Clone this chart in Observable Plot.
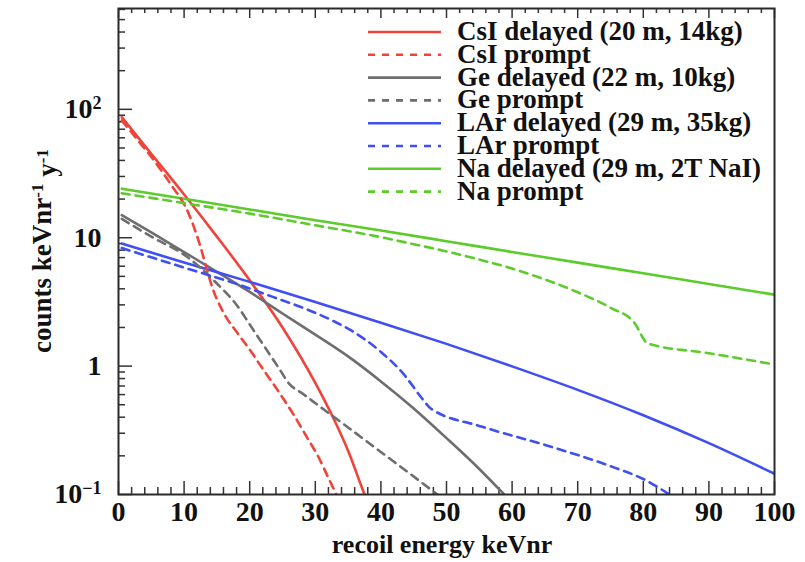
<!DOCTYPE html>
<html><head><meta charset="utf-8">
<script src="https://cdn.jsdelivr.net/npm/d3@7"></script>
<script src="https://cdn.jsdelivr.net/npm/@observablehq/plot@0.6"></script>
<style>body{margin:0;background:#fff} svg{display:block}</style>
</head><body><div id="chart"></div>
<script>
// ---- data (recoil energy keVnr, counts keVnr^-1 y^-1) ----
const csiDelayed = [[0.5,87],[5,45],[10,21.7],[15,10.2],[20,4.66],[25,2.0],[30,0.74],[33,0.37],[35,0.219],[37,0.117],[37.5,0.1]];
const csiPrompt  = [[0.5,82],[3,57],[5.4,40],[7.9,26.4],[10.7,15.4],[11.5,12.1],[12.5,8.5],[13.5,5.6],[14.3,4.1],[16.1,2.56],[18,1.85],[20.2,1.3],[21.7,1.0],[23.5,0.74],[25.2,0.55],[26.8,0.41],[28.8,0.275],[30.5,0.195],[31.9,0.138],[33.2,0.1]];
const geDelayed  = [[0.5,15],[5,11.0],[10,7.73],[15,5.43],[20,3.78],[25,2.57],[30,1.76],[35,1.19],[40,0.76],[45,0.468],[50,0.275],[55,0.158],[58.8,0.1]];
const gePrompt   = [[0.5,14],[5,10.2],[10.5,7.07],[14.5,4.66],[18.6,2.72],[19.6,2.27],[21.5,1.62],[23.2,1.2],[24.5,0.955],[26,0.73],[28,0.614],[31.3,0.459],[35.1,0.33],[40.5,0.205],[44.6,0.143],[48.6,0.1]];
const larDelayed = [[0.5,9.0],[10,6.41],[20,4.53],[30,3.16],[40,2.18],[50,1.49],[60,0.995],[70,0.653],[80,0.414],[90,0.251],[100,0.145]];
const larPrompt  = [[0.5,8.3],[10,5.85],[18.6,4.26],[23.2,3.51],[29.3,2.69],[32.4,2.29],[35.4,1.905],[40,1.29],[43.6,0.85],[46.1,0.575],[47.6,0.468],[55.3,0.339],[65.4,0.24],[75.6,0.162],[80,0.132],[84,0.1]];
const naDelayed  = [[0.5,24.1],[10,20.1],[20,16.6],[30,13.7],[40,11.4],[50,9.4],[60,7.74],[70,6.4],[80,5.28],[90,4.36],[100,3.6]];
const naPrompt   = [[0.5,22.2],[10,18.6],[20,15.4],[30,12.5],[40,10.1],[45,8.91],[50,7.82],[55,6.76],[60,5.75],[65,4.73],[70,3.76],[75,2.85],[78.6,2.19],[80.7,1.5],[90,1.26],[100,1.03]];

const materials = ["CsI","Ge","LAr","Na"];
const legendLabels = ["CsI delayed (20 m, 14kg)","CsI prompt","Ge delayed (22 m, 10kg)","Ge prompt","LAr delayed (29 m, 35kg)","LAr prompt","Na delayed (29 m, 2T NaI)","Na prompt"];
const xMajorTicks = [0,10,20,30,40,50,60,70,80,90,100];
const xMinorTicks = [2,4,6,8,12,14,16,18,22,24,26,28,32,34,36,38,42,44,46,48,52,54,56,58,62,64,66,68,72,74,76,78,82,84,86,88,92,94,96,98];
const yMajorTicks = [0.1,1,10,100];
const yTickLabels = ["10^−1","1","10","10^2"];
const yMinorTicks = [0.2,0.3,0.4,0.5,0.6,0.7,0.8,0.9,2,3,4,5,6,7,8,9,20,30,40,50,60,70,80,90,200,300,400,500,600];
const xTitle = "recoil energy keVnr";

// ---- styling ----
const colors = ["#f0433a","#6e6e6e","#3f4ff2","#5ccb2c"];
const dash = "8,6";
const font = "'Liberation Serif','Times New Roman',serif";

const seriesDefs = [
  ["CsI","delayed",csiDelayed],["CsI","prompt",csiPrompt],
  ["Ge","delayed",geDelayed],["Ge","prompt",gePrompt],
  ["LAr","delayed",larDelayed],["LAr","prompt",larPrompt],
  ["Na","delayed",naDelayed],["Na","prompt",naPrompt]
];
const rows = seriesDefs.flatMap(([m,mode,pts]) => pts.map(([e,v]) => ({material:m, mode, key:m+mode, e, v})));

const W = 805, H = 562, mL = 118, mR = 31, mT = 8, mB = 68;
const fw = W - mL - mR, fh = H - mT - mB;
const tickStyle = {stroke:"#333", strokeWidth:1.5};

const svg = Plot.plot({
  width: W, height: H,
  marginLeft: mL, marginRight: mR, marginTop: mT, marginBottom: mB,
  style: {fontFamily: font, fontWeight: "bold", fontSize: "27px", color: "#111", background: "#fff"},
  x: {domain: [0,100]},
  y: {type: "log", domain: [0.1, 610]},
  color: {domain: materials, range: colors},
  marks: [
    Plot.ruleX(xMajorTicks, {x: d=>d, insetTop: fh-13, ...tickStyle}),
    Plot.ruleX(xMinorTicks, {x: d=>d, insetTop: fh-7, ...tickStyle}),
    Plot.ruleX(xMajorTicks, {x: d=>d, insetBottom: fh-10, ...tickStyle}),
    Plot.ruleX(xMinorTicks, {x: d=>d, insetBottom: fh-5, ...tickStyle}),
    Plot.ruleY(yMajorTicks, {y: d=>d, insetRight: fw-14, ...tickStyle}),
    Plot.ruleY(yMinorTicks, {y: d=>d, insetRight: fw-7, ...tickStyle}),
    Plot.line(rows.filter(d=>d.mode==="delayed"), {x:"e", y:"v", z:"key", stroke:"material", strokeWidth:2.6, curve:"monotone-x", clip:true}),
    Plot.line(rows.filter(d=>d.mode==="prompt"), {x:"e", y:"v", z:"key", stroke:"material", strokeWidth:2.6, strokeDasharray:dash, curve:"monotone-x", clip:true}),
    Plot.frame({stroke:"#2a2a2a", strokeWidth:2}),
    Plot.axisX({ticks: xMajorTicks, tickSize: 0, tickPadding: 7, fontSize: 28, fontWeight: "bold", label: null}),
    Plot.axisY({ticks: yMajorTicks, tickSize: 0, tickPadding: 17, fontSize: 28, fontWeight: "bold", label: null,
      tickFormat: d => yTickLabels[yMajorTicks.indexOf(d)]})
  ]
});

const s = d3.select(svg);
s.selectAll('g[aria-label="y-axis tick label"] text').each(function(){
  const [b, e] = this.textContent.split("^");
  if (e) {
    this.textContent = b;
    d3.select(this).append("tspan").attr("dy","-0.5em").attr("font-size","18px").text(e);
  }
});

// axis titles
s.append("text").attr("x", mL + fw/2 - 4).attr("y", 553).attr("text-anchor","middle")
  .attr("font-family", font).attr("font-weight","bold").attr("font-size",26).attr("fill","#111").text(xTitle);
const yt = s.append("text").attr("transform", `translate(51,${mT + fh/2}) rotate(-90)`).attr("text-anchor","middle")
  .attr("font-family", font).attr("font-weight","bold").attr("font-size",27).attr("fill","#111");
yt.append("tspan").text("counts keVnr");
yt.append("tspan").attr("dy","-0.5em").attr("font-size","17px").text("-1");
yt.append("tspan").attr("dy","0.5em").text(" y");
yt.append("tspan").attr("dy","-0.5em").attr("font-size","17px").text("-1");

// legend
const lg = s.append("g");
legendLabels.forEach((lab, i) => {
  const y = 32 + i * 22.8;
  const c = colors[Math.floor(i/2)];
  lg.append("line").attr("x1", 368).attr("x2", 441).attr("y1", y).attr("y2", y)
    .attr("stroke", c).attr("stroke-width", 2.6).attr("stroke-dasharray", i % 2 ? "7,7" : null);
  lg.append("text").attr("x", 457).attr("y", y + 8).attr("text-anchor","start").attr("font-family", font).attr("font-weight","bold")
    .attr("font-size", 27).attr("fill","#111").text(lab);
});

document.getElementById("chart").appendChild(svg);
</script>
</body></html>
